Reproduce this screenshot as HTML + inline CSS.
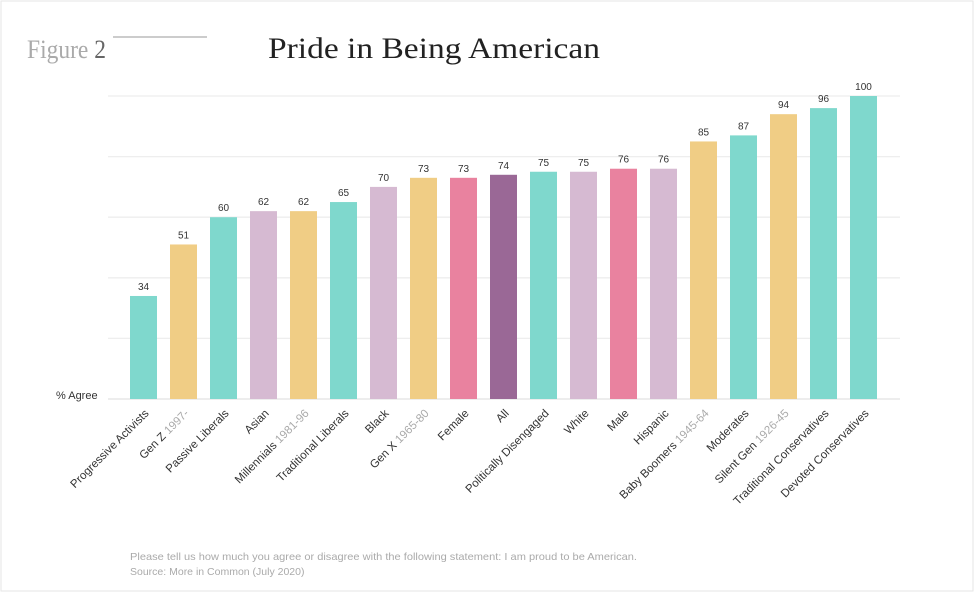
<!DOCTYPE html>
<html><head><meta charset="utf-8"><style>
body{margin:0;background:#fff;}
#wrap{position:relative;width:975px;height:593px;overflow:hidden;background:#fff;}
svg{position:absolute;left:0;top:0;}
</style></head><body>
<div id="wrap">
<svg id="chart" width="975" height="593">
<rect x="1" y="1" width="972" height="590" fill="none" stroke="#e6e6e6"/>
<text x="27" y="58" font-family="Liberation Serif, serif" font-size="26" fill="#aaa" textLength="79" lengthAdjust="spacingAndGlyphs">Figure <tspan fill="#666">2</tspan></text>
<line x1="113" y1="37" x2="207" y2="37" stroke="#bbb" stroke-width="1.5"/>
<text x="268" y="58" font-family="Liberation Serif, serif" font-size="30" fill="#222" textLength="332" lengthAdjust="spacingAndGlyphs">Pride in Being American</text>
<g id="grid"></g>
<g id="bars"></g>
<text x="56" y="399" font-family="Liberation Sans, sans-serif" font-size="11" fill="#333">% Agree</text>
<text x="130" y="560" font-family="Liberation Sans, sans-serif" font-size="10.5" fill="#aaa" textLength="507" lengthAdjust="spacingAndGlyphs">Please tell us how much you agree or disagree with the following statement: I am proud to be American.</text>
<text x="130" y="575" font-family="Liberation Sans, sans-serif" font-size="10.5" fill="#aaa">Source: More in Common (July 2020)</text>
</svg>
</div>
<script>
const categories=["Progressive Activists","Gen Z","Passive Liberals","Asian","Millennials","Traditional Liberals","Black","Gen X","Female","All","Politically Disengaged","White","Male","Hispanic","Baby Boomers","Moderates","Silent Gen","Traditional Conservatives","Devoted Conservatives"];
const subLabels=["","1997-","","","1981-96","","","1965-80","","","","","","","1945-64","","1926-45","",""];
const values=[34,51,60,62,62,65,70,73,73,74,75,75,76,76,85,87,94,96,100];
const groups=["teal","yellow","teal","lilac","yellow","teal","lilac","yellow","pink","purple","teal","lilac","pink","lilac","yellow","teal","yellow","teal","teal"];
const gridTicks=[0,20,40,60,80,100];
const colors={teal:"#7fd8cd",yellow:"#f0cd85",lilac:"#d6bad2",pink:"#e9829f",purple:"#9a6896"};
const NS="http://www.w3.org/2000/svg";
const baseY=399,topY=96,x0=130,pitch=40,bw=27;
function yScale(v){return baseY-(v/100)*(baseY-topY);}
function xScale(i){return x0+i*pitch;}
const grid=document.getElementById('grid'),bars=document.getElementById('bars');
gridTicks.forEach(t=>{
 const l=document.createElementNS(NS,'line');
 
 
 l.setAttribute('x1',108);l.setAttribute('x2',900);
 l.setAttribute('y1',yScale(t));l.setAttribute('y2',yScale(t));
 l.setAttribute('stroke',t===0?'#e2e2e2':'#eeeeee');l.setAttribute('stroke-width',1.3);
 grid.appendChild(l);
});
values.forEach((v,i)=>{
 const x=xScale(i),y=yScale(v);
 const r=document.createElementNS(NS,'rect');
 
 
 r.setAttribute('x',x);r.setAttribute('y',y);r.setAttribute('width',bw);r.setAttribute('height',baseY-y);
 r.setAttribute('fill',colors[groups[i]]);
 bars.appendChild(r);
 const t=document.createElementNS(NS,'text');
 
 
 t.setAttribute('x',x+bw/2);t.setAttribute('y',y-6);
 t.setAttribute('text-anchor','middle');t.setAttribute('font-family','Liberation Sans, sans-serif');
 t.setAttribute('font-size','10');t.setAttribute('fill','#333');
 t.textContent=v;bars.appendChild(t);
 const c=document.createElementNS(NS,'text');
 
 
 const cx=x+bw/2+6,cy=baseY+15;
 c.setAttribute('x',cx);c.setAttribute('y',cy);
 c.setAttribute('text-anchor','end');c.setAttribute('font-family','Liberation Sans, sans-serif');
 c.setAttribute('font-size','11.5');c.setAttribute('fill','#333');
 c.setAttribute('transform','rotate(-45 '+cx+' '+cy+')');
 c.textContent=categories[i];
 if(subLabels[i]){const s=document.createElementNS(NS,'tspan');s.setAttribute('fill','#aaa');s.textContent=' '+subLabels[i];c.appendChild(s);}
 bars.appendChild(c);
});
</script>
</body></html>
